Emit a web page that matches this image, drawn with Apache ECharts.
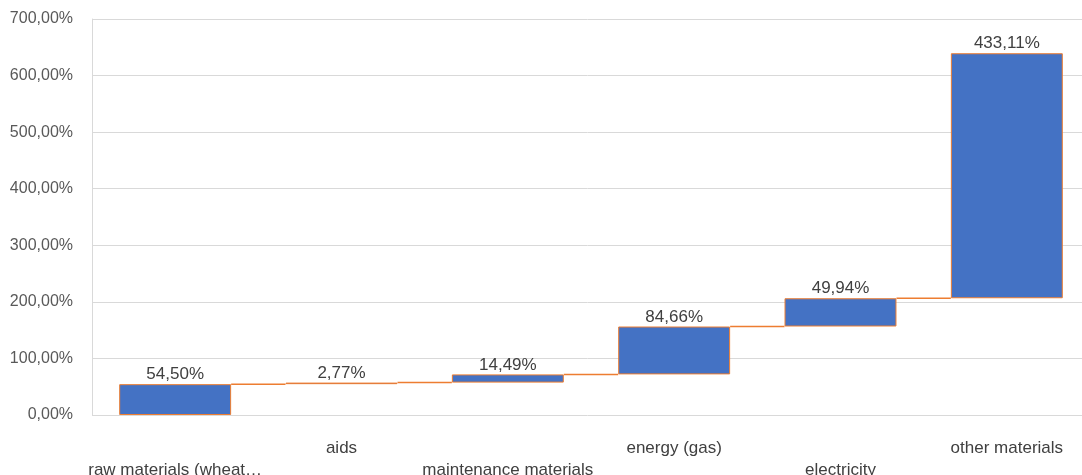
<!DOCTYPE html>
<html>
<head>
<meta charset="utf-8">
<script src="https://cdn.jsdelivr.net/npm/echarts@6/dist/echarts.min.js"></script>
<style>
html,body{margin:0;padding:0;background:#fff;overflow:hidden;}
#chart{width:1082px;height:475px;overflow:hidden;}
</style>
</head>
<body>
<div id="chart"></div>
<script>
var categories = ["raw materials (wheat\u2026", "aids", "maintenance materials", "energy (gas)", "electricity", "other materials"];
var values = [54.50, 2.77, 14.49, 84.66, 49.94, 433.11];
var yTicks = [0, 100, 200, 300, 400, 500, 600, 700];

var bases = [];
var ends = [];
var run = 0;
for (var i = 0; i < values.length; i++) {
  bases.push(run);
  run += values[i];
  ends.push(run);
}
var connectors = [];
for (var j = 0; j < ends.length - 1; j++) connectors.push([j, ends[j]]);

function pct(v) { return v.toFixed(2).replace('.', ',') + '%'; }

var FONT = 'Liberation Sans';
var BAR_FRAC = 0.673;

var chart = echarts.init(document.getElementById('chart'));
chart.setOption({
  animation: false,
  grid: { left: 92, right: -8, top: 19, bottom: 60, containLabel: false, outerBoundsMode: 'none' },
  xAxis: {
    type: 'category',
    data: categories,
    axisLine: { show: false },
    axisTick: { show: false },
    axisLabel: {
      interval: 0,
      fontFamily: FONT,
      fontSize: 17,
      color: '#404040',
      margin: 22,
      lineHeight: 22,
      formatter: function (v, idx) { return idx % 2 === 0 ? '\n' + v : v; }
    }
  },
  yAxis: {
    type: 'value',
    min: yTicks[0],
    max: yTicks[yTicks.length - 1],
    interval: 100,
    axisLine: { show: true, lineStyle: { color: '#d9d9d9', width: 1 } },
    axisTick: { show: false },
    splitLine: { lineStyle: { color: '#d9d9d9', width: 1 } },
    axisLabel: {
      fontFamily: FONT,
      fontSize: 16,
      color: '#595959',
      margin: 19,
      formatter: function (v) { return pct(v); }
    }
  },
  series: [
    {
      type: 'bar',
      stack: 'wf',
      barWidth: (BAR_FRAC * 100) + '%',
      itemStyle: { color: 'transparent' },
      data: bases,
      silent: true
    },
    {
      type: 'bar',
      stack: 'wf',
      barWidth: (BAR_FRAC * 100) + '%',
      itemStyle: { color: '#4472C4', borderColor: '#ED7D31', borderWidth: 1 },
      label: {
        show: true,
        position: 'top',
        distance: 1,
        fontFamily: FONT,
        fontSize: 17,
        color: '#404040',
        formatter: function (p) { return pct(p.value); }
      },
      data: values
    },
    {
      type: 'custom',
      data: connectors,
      z: 3,
      renderItem: function (params, api) {
        var p = api.coord([api.value(0), api.value(1)]);
        var w = api.size([1, 0])[0];
        var bw = w * BAR_FRAC;
        return {
          type: 'line',
          shape: { x1: p[0] + bw / 2, y1: p[1], x2: p[0] + w - bw / 2, y2: p[1] },
          style: { stroke: '#ED7D31', lineWidth: 1.5 }
        };
      }
    }
  ]
});
</script>
</body>
</html>
